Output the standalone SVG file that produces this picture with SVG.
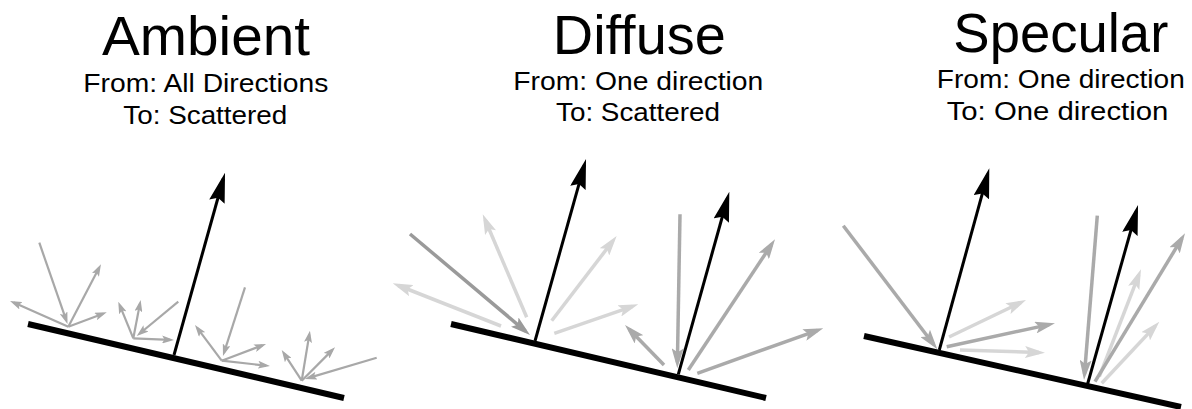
<svg xmlns="http://www.w3.org/2000/svg" width="1192" height="409" viewBox="0 0 1192 409">
<style>
text{font-family:"Liberation Sans",Arial,Helvetica,sans-serif;fill:#000;text-anchor:middle}
.title{font-size:55px}
.sub{font-size:26px}
.surf{stroke:#000;stroke-width:6;fill:none}
.norm{stroke:#000;stroke-width:3;fill:none;marker-end:url(#hBlack)}
.sa{stroke:#a8a8a8;stroke-width:2.2;fill:none;marker-end:url(#hSmall)}
.gd{stroke:#9a9a9a;stroke-width:3.5;fill:none;marker-end:url(#hDark)}
.gm{stroke:#aaaaaa;stroke-width:3.5;fill:none;marker-end:url(#hMid)}
.gl{stroke:#d6d6d6;stroke-width:3.5;fill:none;marker-end:url(#hLight)}
</style>
<defs>
<marker id="hSmall" markerUnits="userSpaceOnUse" viewBox="0 0 12 8" markerWidth="12" markerHeight="8" refX="8" refY="4" orient="auto"><path d="M0,0 L12,4 L0,8 L2.5,4 z" fill="#a8a8a8"/></marker>
<marker id="hDark" markerUnits="userSpaceOnUse" viewBox="0 0 20 12" markerWidth="20" markerHeight="12" refX="14" refY="6" orient="auto"><path d="M0,0 L20,6 L0,12 L4,6 z" fill="#9a9a9a"/></marker>
<marker id="hMid" markerUnits="userSpaceOnUse" viewBox="0 0 20 12" markerWidth="20" markerHeight="12" refX="14" refY="6" orient="auto"><path d="M0,0 L20,6 L0,12 L4,6 z" fill="#aaaaaa"/></marker>
<marker id="hLight" markerUnits="userSpaceOnUse" viewBox="0 0 20 12" markerWidth="20" markerHeight="12" refX="14" refY="6" orient="auto"><path d="M0,0 L20,6 L0,12 L4,6 z" fill="#d6d6d6"/></marker>
<marker id="hBlack" markerUnits="userSpaceOnUse" viewBox="0 0 30 16" markerWidth="30" markerHeight="16" refX="24" refY="8" orient="auto"><path d="M0,0 L30,8 L0,16 L4,8 z" fill="#000"/></marker>
</defs>
<rect width="1192" height="409" fill="#fff"/>

<g id="ambient">
<text class="title" x="206" y="55" textLength="208" lengthAdjust="spacingAndGlyphs">Ambient</text>
<text class="sub" x="205.8" y="92" textLength="245" lengthAdjust="spacingAndGlyphs">From: All Directions</text>
<text class="sub" x="205.3" y="124" textLength="164" lengthAdjust="spacingAndGlyphs">To: Scattered</text>
<line class="surf" x1="28" y1="324" x2="344" y2="398"/>
</g>
<g id="diffuse">
<text class="title" x="639.3" y="53.5" textLength="173" lengthAdjust="spacingAndGlyphs">Diffuse</text>
<text class="sub" x="638.3" y="89.5" textLength="250" lengthAdjust="spacingAndGlyphs">From: One direction</text>
<text class="sub" x="638" y="120.7" textLength="164" lengthAdjust="spacingAndGlyphs">To: Scattered</text>
<line class="surf" x1="451" y1="324" x2="766" y2="398"/>
</g>
<g id="specular">
<text class="title" x="1060.8" y="52" textLength="215" lengthAdjust="spacingAndGlyphs">Specular</text>
<text class="sub" x="1060.8" y="87.5" textLength="248" lengthAdjust="spacingAndGlyphs">From: One direction</text>
<text class="sub" x="1057.5" y="119.5" textLength="221.7" lengthAdjust="spacingAndGlyphs">To: One direction</text>
<line class="surf" x1="864" y1="336" x2="1181" y2="407"/>
</g>

<g id="connectors">
<!-- ambient -->
<line class="sa" x1="39.3" y1="242.7" x2="66.2" y2="320.2"/>
<line class="sa" x1="68.3" y1="326.7" x2="99.1" y2="267.8"/>
<line class="sa" x1="68.3" y1="326.7" x2="13.7" y2="302.6"/>
<line class="sa" x1="68.3" y1="326.7" x2="103" y2="313.7"/>
<line class="sa" x1="133.3" y1="338.3" x2="119.8" y2="305.4"/>
<line class="sa" x1="133.3" y1="338.3" x2="139.9" y2="303.9"/>
<line class="sa" x1="178.3" y1="301.7" x2="139.8" y2="333.5"/>
<line class="sa" x1="133.3" y1="338.3" x2="170" y2="339.8"/>
<line class="sa" x1="221.7" y1="360.7" x2="197.4" y2="328.2"/>
<line class="sa" x1="245" y1="287.3" x2="224.2" y2="352.2"/>
<line class="sa" x1="221.7" y1="360.7" x2="262.3" y2="345.4"/>
<line class="sa" x1="221.7" y1="360.7" x2="266" y2="365.6"/>
<line class="sa" x1="301.7" y1="380.7" x2="283.9" y2="353.4"/>
<line class="sa" x1="301.7" y1="380.7" x2="309.3" y2="334.6"/>
<line class="sa" x1="301.7" y1="380.7" x2="332.2" y2="350.1"/>
<line class="sa" x1="376.7" y1="357.7" x2="308.8" y2="377.9"/>
<line class="norm" x1="174" y1="355" x2="223.4" y2="178.5"/>
<!-- diffuse -->
<line class="gl" x1="501" y1="326" x2="398.3" y2="285.5"/>
<line class="gl" x1="526.7" y1="317.3" x2="485.1" y2="219.8"/>
<line class="gl" x1="551.7" y1="320.7" x2="613" y2="240.8"/>
<line class="gl" x1="554.3" y1="333.3" x2="632.6" y2="306.3"/>
<line class="gd" x1="410" y1="234" x2="525.4" y2="331.1"/>
<line class="gm" x1="664" y1="365" x2="629.2" y2="329.3"/>
<line class="gm" x1="680" y1="214.3" x2="677.4" y2="362.3"/>
<line class="gm" x1="688.3" y1="370" x2="771.7" y2="244.3"/>
<line class="gm" x1="697.3" y1="373.3" x2="817.6" y2="330.3"/>
<line class="norm" x1="535" y1="341" x2="584.4" y2="164.8"/>
<line class="norm" x1="678.3" y1="374.3" x2="727.7" y2="197.5"/>
<!-- specular -->
<line class="gm" x1="843.3" y1="225.7" x2="933.7" y2="344.5"/>
<line class="gl" x1="949" y1="337" x2="1020.6" y2="302.6"/>
<line class="gl" x1="960" y1="350" x2="1039" y2="352.5"/>
<line class="gm" x1="946.7" y1="346.7" x2="1049.1" y2="324.6"/>
<line class="gm" x1="1097.3" y1="215.7" x2="1084.5" y2="374"/>
<line class="gl" x1="1099.3" y1="376.7" x2="1138.8" y2="274.9"/>
<line class="gl" x1="1101.7" y1="383.3" x2="1155.2" y2="326.1"/>
<line class="gm" x1="1095" y1="381.7" x2="1181.9" y2="238.4"/>
<line class="norm" x1="939.3" y1="350" x2="987.7" y2="174.1"/>
<line class="norm" x1="1087.3" y1="385" x2="1136.4" y2="210.8"/>
</g>
</svg>
